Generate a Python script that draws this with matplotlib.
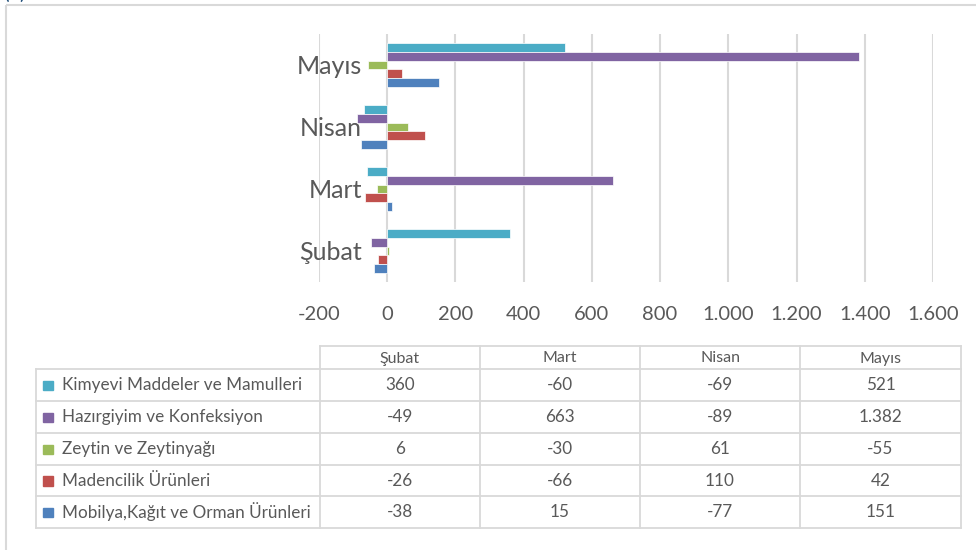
import numpy as np
import matplotlib
matplotlib.use("Agg")
import matplotlib.pyplot as plt
from matplotlib.patches import Rectangle

plt.rcParams['font.family'] = ['Lato', 'DejaVu Sans']

# aylar (alttan yukarı)
months = ['Şubat', 'Mart', 'Nisan', 'Mayıs']

# seriler - grafikte yukarıdan aşağı sıra
series_names = [
    'Kimyevi Maddeler ve Mamulleri',
    'Hazırgiyim ve Konfeksiyon',
    'Zeytin ve Zeytinyağı',
    'Madencilik Ürünleri',
    'Mobilya,Kağıt ve Orman Ürünleri',
]
kimyevi = [360, -60, -69, 521]
hazirgiyim = [-49, 663, -89, 1382]
zeytin = [6, -30, 61, -55]
madencilik = [-26, -66, 110, 42]
mobilya = [-38, 15, -77, 151]
series_values = [kimyevi, hazirgiyim, zeytin, madencilik, mobilya]

colors = ['#4BACC6', '#8064A2', '#9BBB59', '#C0504D', '#4F81BD']
x_ticks = [-200, 0, 200, 400, 600, 800, 1000, 1200, 1400, 1600]

text_col = '#595959'
grid_col = '#D9D9D9'

W, H = 976, 550
fig = plt.figure(figsize=(W / 100, H / 100), dpi=100)

# dış çerçeve
frame = fig.add_axes([0, 0, 1, 1])
frame.set_xlim(0, W)
frame.set_ylim(H, 0)
frame.axis('off')
frame.add_patch(Rectangle((6, 5), W + 20, H + 20, fill=False, ec=grid_col, lw=1.5))
frame.text(4, -1, '(a)', color='#1F4E79', fontsize=15, va='baseline', ha='left')

# çubuk grafik
ax = fig.add_axes([319 / W, 1 - 282 / H, 614 / W, 248 / H])
bar_h = 0.145
y = np.arange(len(months))
for i, (vals, c) in enumerate(zip(series_values, colors)):
    offset = (2 - i) * bar_h
    ax.barh(y + offset, vals, height=bar_h, color=c, edgecolor='white', linewidth=0.5, zorder=3)

ax.set_xlim(-200, 1600)
ax.set_ylim(-0.5, 3.5)
ax.set_xticks(x_ticks)
ax.set_xticklabels([f"{v:,}".replace(',', '.') for v in x_ticks], fontsize=14.5, color=text_col)
ax.set_yticks(y)
ax.set_yticklabels(months, fontsize=18, color=text_col)
ax.tick_params(axis='both', length=0)
ax.tick_params(axis='x', pad=17)
ax.tick_params(axis='y', pad=-31)
for lab in ax.get_yticklabels():
    lab.set_zorder(5)
ax.grid(axis='x', color=grid_col, lw=1.5, zorder=0)
for s in ax.spines.values():
    s.set_visible(False)

# veri tablosu
col_x = [36, 320, 480, 640, 800, 961]
row_y = [346, 369, 401, 433, 465, 496, 528]
lw_t = 1.3
t = frame
# yatay çizgiler
t.plot([col_x[1], col_x[-1]], [row_y[0]] * 2, color=grid_col, lw=lw_t)
for ry in row_y[1:]:
    t.plot([col_x[0], col_x[-1]], [ry, ry], color=grid_col, lw=lw_t)
# dikey çizgiler
t.plot([col_x[0]] * 2, [row_y[1], row_y[-1]], color=grid_col, lw=lw_t)
for cx in col_x[1:]:
    t.plot([cx, cx], [row_y[0], row_y[-1]], color=grid_col, lw=lw_t)

for j, m in enumerate(months):
    cx = (col_x[j + 1] + col_x[j + 2]) / 2
    t.text(cx, (row_y[0] + row_y[1]) / 2 + 1, m, ha='center', va='center', fontsize=11.5, color=text_col)

for i, (name, vals, c) in enumerate(zip(series_names, series_values, colors)):
    cy = (row_y[i + 1] + row_y[i + 2]) / 2
    t.add_patch(Rectangle((43, cy - 4.5), 9.5, 9.5, color=c))
    t.text(62, cy, name, ha='left', va='center', fontsize=12.3, color=text_col)
    for j, v in enumerate(vals):
        cx = (col_x[j + 1] + col_x[j + 2]) / 2
        t.text(cx, cy, f"{v:,}".replace(',', '.'), ha='center', va='center', fontsize=12.3, color=text_col)

fig.savefig('out.png', dpi=100)
